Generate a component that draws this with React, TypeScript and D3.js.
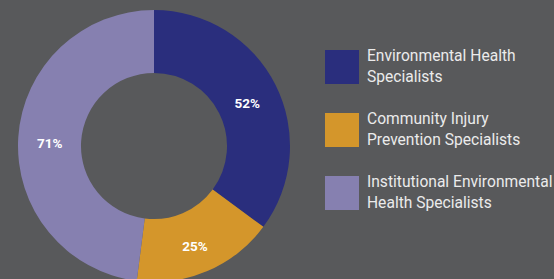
import { useEffect, useRef } from "react";
import * as d3 from "d3";

const categories = [
  ["Environmental Health", "Specialists"],
  ["Community Injury", "Prevention Specialists"],
  ["Institutional Environmental", "Health Specialists"],
];
const values = [52, 25, 71];
const colors = ["#2a2e7d", "#d4962b", "#8680b0"];

export default function App() {
  const svgRef = useRef<SVGSVGElement>(null);

  useEffect(() => {
    if (!svgRef.current) return;
    const svg = d3.select(svgRef.current);
    svg.selectAll("*").remove();

    const width = 554;
    const height = 279;
    const cx = 154;
    const cy = 146;
    const outer = 136;
    const inner = 73;

    svg.append("rect").attr("width", width).attr("height", height).attr("fill", "#58595b");

    const pie = d3.pie<number>().sort(null).value((d) => d);
    const arcs = pie(values);
    const arc = d3.arc<d3.PieArcDatum<number>>().innerRadius(inner).outerRadius(outer);

    const g = svg.append("g").attr("transform", `translate(${cx},${cy})`);

    g.selectAll("path")
      .data(arcs)
      .join("path")
      .attr("d", arc)
      .attr("fill", (_, i) => colors[i]);

    // percentage labels sit a bit past the slice centroid
    g.selectAll("text")
      .data(arcs)
      .join("text")
      .attr("transform", (d) => {
        const [x, y] = arc.centroid(d);
        return `translate(${x},${y + 4})`;
      })
      .attr("text-anchor", "middle")
      .attr("dy", "0.36em")
      .attr("font-family", "Roboto, sans-serif")
      .attr("font-weight", "bold")
      .attr("font-size", "13.5px")
      .attr("fill", "#ffffff")
      .text((d) => `${d.data}%`);

    // Legend
    const legend = svg
      .selectAll("g.legend")
      .data(categories)
      .join("g")
      .attr("class", "legend")
      .attr("transform", (_, i) => `translate(325,${50 + i * 63})`);

    legend
      .append("rect")
      .attr("width", 34)
      .attr("height", 34)
      .attr("fill", (_, i) => colors[i]);

    legend
      .append("text")
      .attr("font-family", "Roboto, sans-serif")
      .attr("font-size", "15.6px")
      .attr("fill", "#ebebeb")
      .selectAll("tspan")
      .data((d) => d)
      .join("tspan")
      .attr("x", 42)
      .attr("y", (_, j) => 11 + j * 21)
      .text((d) => d);
  }, []);

  return (
    <div style={{ position: "fixed", left: 0, top: 0, width: 554, height: 279, background: "#58595b" }}>
      <svg ref={svgRef} width="554" height="279" style={{ display: "block" }}></svg>
    </div>
  );
}
